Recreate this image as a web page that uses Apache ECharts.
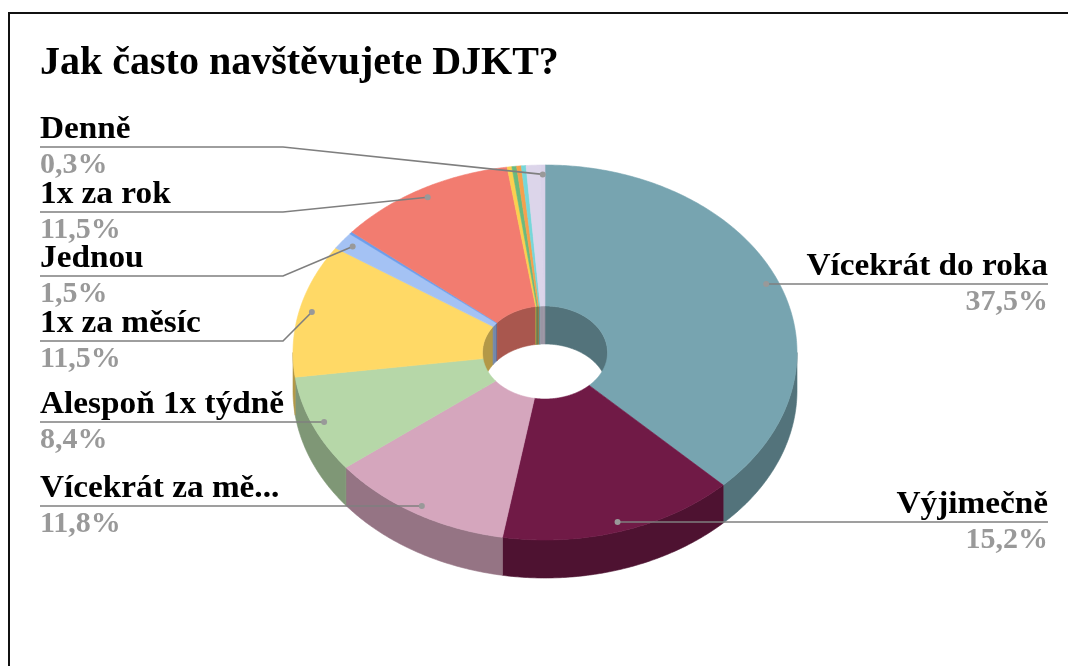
<!DOCTYPE html>
<html><head><meta charset="utf-8">
<style>html,body{margin:0;padding:0;background:#fff}#c{width:1068px;height:666px}</style>
<script src="https://cdn.jsdelivr.net/npm/echarts@6/dist/echarts.min.js"></script>
</head><body><div id="c"></div>
<script>
// Data, clockwise from 12 o'clock
const categories = ['Vícekrát do roka','Výjimečně','Vícekrát za mě...','Alespoň 1x týdně','1x za měsíc','Jednou','Jiné A','1x za rok','Jiné B','Jiné C','Jiné D','Jiné E','Jiné F','Denně'];
const values = [37.5,15.2,11.8,8.4,11.5,1.5,0.2,11.5,0.3,0.3,0.3,0.3,0.9,0.3];
const colors = ['#77a4b0','#701a46','#d5a6bd','#b6d7a8','#ffd966','#a4c2f4','#6d9eeb','#f27c70','#fbd04f','#6aba7e','#f6a04d','#76d7d9','#dcd5ea','#d9d2e9'];
const labelled = [0,1,2,3,4,5,7,13];
// label layout per category index: underline y and side
const labelY = {0:284,1:522,2:506,3:422,4:341,5:276,7:212,13:147};
const rightSide = {0:true,1:true};
const elbowLeftX = 283;
const labelLeftX = 40, labelRightX = 1048;

const cx=545, cy=352.5, rx=252, ry=187.5, hrx=62.5, hry=46.5, depth=38, dotR=0.95;
const total = values.reduce((a,b)=>a+b,0);
const starts=[]; { let s=0; values.forEach(v=>{starts.push(s); s+=v;}); }
const ang=p=>p/total*2*Math.PI;
const pt=(a,rX,rY,dy)=>[cx+rX*Math.sin(a), cy-rY*Math.cos(a)+(dy||0)];
function arc(a0,a1,rX,rY,dy){const n=Math.max(2,Math.ceil((a1-a0)/0.01));const o=[];for(let i=0;i<=n;i++){o.push(pt(a0+(a1-a0)*i/n,rX,rY,dy));}return o;}
function shade(hex,f){const n=parseInt(hex.slice(1),16);const c=[n>>16,(n>>8)&255,n&255].map(v=>Math.round(v*f));return `rgb(${c.join(',')})`;}
function range(i){const a0=ang(starts[i]);return [a0,a0+ang(values[i])];}
function poly(points,fill){return {type:'polygon',shape:{points},style:{fill,stroke:fill,lineWidth:0.6}};}
function empty(){return {type:'group',children:[]};}

function clip(a0,a1,lo,hi){const s=Math.max(a0,lo),e=Math.min(a1,hi);return e>s?[s,e]:null;}
function wall(i,rX,rY,segments,f){
  const [a0,a1]=range(i);const kids=[];
  segments.forEach(([lo,hi])=>{const r=clip(a0,a1,lo,hi);if(r){const top=arc(r[0],r[1],rX,rY,0);const bot=arc(r[0],r[1],rX,rY,depth).reverse();kids.push(poly(top.concat(bot),shade(colors[i],f)));}});
  return {type:'group',children:kids};
}
const PI=Math.PI;
const innerWall=(p)=>wall(p.dataIndex,hrx,hry,[[0,PI/2],[1.5*PI,2*PI]],0.7);
const outerWall=(p)=>wall(p.dataIndex,rx,ry,[[PI/2,1.5*PI]],0.7);
const topFace=(p)=>{const i=p.dataIndex;const [a0,a1]=range(i);return poly(arc(a0,a1,rx,ry,0).concat(arc(a0,a1,hrx,hry,0).reverse()),colors[i]);};

const fontName='"Liberation Serif"';
const leader=(p,api)=>{
  const i=p.dataIndex; if(!labelled.includes(i)) return empty();
  const [a0,a1]=range(i);const m=(a0+a1)/2;const d=pt(m,rx*dotR,ry*dotR,0);
  const y=labelY[i];const right=rightSide[i];
  const points=right?[d,[d[0],y],[labelRightX,y]]:[d,[Math.min(elbowLeftX,d[0]),y],[labelLeftX,y]];
  if(Math.abs(d[1]-y)<2.5){points[0]=[d[0],y];points.splice(1,1);}
  return {type:'group',children:[
    {type:'polyline',shape:{points},style:{fill:'none',stroke:'#7f7f7f',lineWidth:1.6}},
    {type:'circle',shape:{cx:points[0][0],cy:points[0][1],r:3},style:{fill:'#999999'}}
  ]};
};
const label=(p,api)=>{
  const i=p.dataIndex; if(!labelled.includes(i)) return empty();
  const y=labelY[i],right=rightSide[i];const x=right?labelRightX:labelLeftX;const align=right?'right':'left';
  return {type:'group',children:[
    {type:'text',x,y:y-1,scaleX:1.04,style:{text:categories[i],x:0,y:0,align,verticalAlign:'bottom',font:`bold 32px ${fontName}`,fill:'#000'}},
    {type:'text',x,y:y+3,style:{text:values[i].toFixed(1).replace('.',',')+'%',x:0,y:0,align,verticalAlign:'top',font:`bold 30px ${fontName}`,fill:'#999999'}}
  ]};
};
const seriesData=categories.map((name,i)=>({name,value:values[i]}));
const layer=(renderItem,z)=>({type:'custom',coordinateSystem:'none',renderItem,data:seriesData,z,silent:true,clip:false,animation:false});

const chart=echarts.init(document.getElementById('c'),null,{renderer:'canvas'});
chart.setOption({
  animation:false,backgroundColor:'#fff',
  title:{text:'Jak často navštěvujete DJKT?',left:35,top:39,textStyle:{fontFamily:fontName,fontWeight:'bold',fontSize:40,color:'#000'}},
  graphic:[{type:'polyline',shape:{points:[[9,670],[9,13],[1072,13]]},style:{fill:'none',stroke:'#111',lineWidth:2}}],
  series:[layer(innerWall,2),layer(outerWall,3),layer(topFace,4),layer(leader,5),layer(label,6)]
});
</script></body></html>
